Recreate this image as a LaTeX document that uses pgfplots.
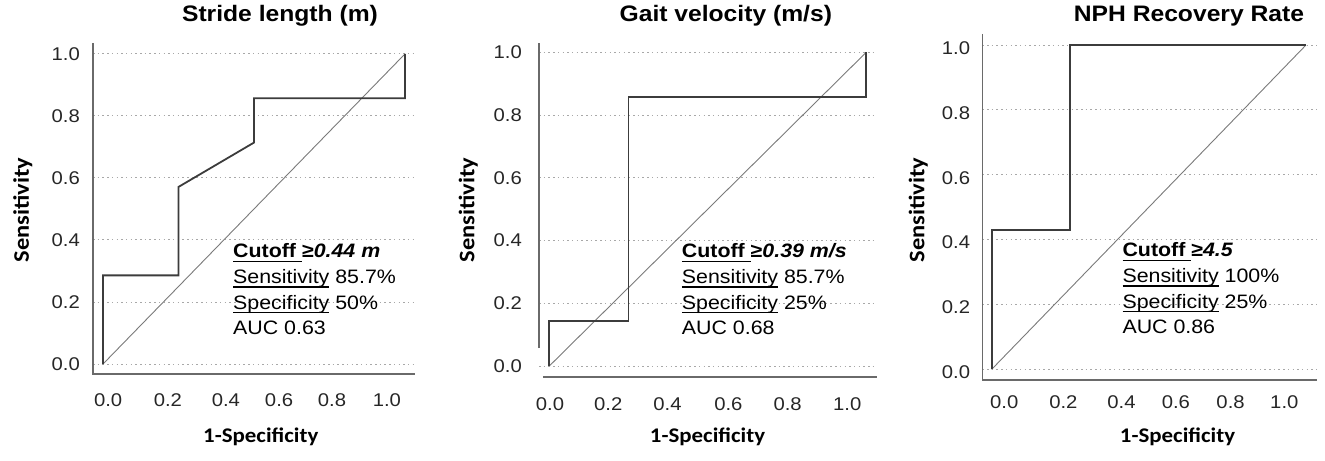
\documentclass[border=0pt]{standalone}
\usepackage{pgfplots}
\pgfplotsset{compat=1.18}
\usepackage{fontspec}
\setmainfont{Liberation Sans}[FakeStretch=1.1]
\newfontfamily\calibri{Carlito}[FakeStretch=1.1]
\definecolor{curve}{HTML}{3C3C3C}
\definecolor{diag}{HTML}{7A7A7A}
\definecolor{axln}{HTML}{6A6A6A}
\definecolor{gridc}{HTML}{A8A8A8}
\newcommand{\ul}[1]{\leavevmode\setbox0\hbox{#1}\rlap{\rule[-4bp]{\wd0}{1.3bp}}\box0\relax}
\newcommand{\ann}[3]{%
  \node[anchor=base west,inner sep=0pt,font=\fontsize{19.5}{24}\selectfont] at (#1bp,#2bp) {#3};}
\begin{document}
\begin{tikzpicture}
\path[use as bounding box] (0,0) rectangle (1325bp,461bp);
\pgfplotsset{
  roc/.style={
    scale only axis, clip=false,
    axis line style={draw=none},
    major tick length=0pt,
    ymajorgrids,
    major grid style={line width=1bp, gridc, dash pattern=on 1.5bp off 3.2bp},
    ytick={0,0.2,0.4,0.6,0.8,1.0},
    yticklabels={0.0,0.2,0.4,0.6,0.8,1.0},
    xticklabels={0.0,0.2,0.4,0.6,0.8,1.0},
    /pgf/number format/assume math mode=true,
    tick label style={font=\fontsize{18.5}{18.5}\selectfont, inner sep=0pt, text=black!85},
  },
  curvest/.style={color=curve, line width=1.8bp, line join=miter},
  diagst/.style={color=diag, line width=0.9bp},
}
% ---------- Panel 1 ----------
\begin{axis}[roc, at={(93bp,87bp)}, anchor=south west,
  width=322bp, height=331bp,
  xmin=-0.033, xmax=1.033, ymin=-0.032, ymax=1.035,
  xtick={0.017,0.215,0.407,0.583,0.758,0.940},
  xticklabel style={anchor=north, yshift=-19bp},
  yticklabel style={anchor=east, xshift=-13bp}]
\draw[axln, line width=1.3bp] (rel axis cs:0,1) -- (rel axis cs:0,0) -- (rel axis cs:1,0);
\addplot[diagst] coordinates {(0,0) (1,1)};
\addplot[curvest] coordinates {(0,0) (0,0.286) (0.25,0.286) (0.25,0.571) (0.5,0.714) (0.5,0.857) (1,0.857) (1,1)};
\end{axis}
% ---------- Panel 2 ----------
\begin{axis}[roc, at={(539bp,84bp)}, anchor=south west,
  width=338bp, height=334bp,
  xmin=-0.0325, xmax=1.034, ymin=-0.035, ymax=1.0296,
  xtick={0.002,0.186,0.373,0.565,0.752,0.940},
  xticklabel style={anchor=north, yshift=-20bp},
  yticklabel style={anchor=east, xshift=-17bp}]
\draw[axln, line width=1.3bp] (axis cs:-0.02,-0.035) -- (axis cs:1.034,-0.035);
\draw[axln, line width=1.3bp] (axis cs:-0.0325,0.057) -- (axis cs:-0.0325,1.0296);
\addplot[diagst] coordinates {(0,0) (1,1)};
\addplot[curvest] coordinates {(0,0) (0,0.143) (0.25,0.143) (0.25,0.857) (1,0.857) (1,1)};
\end{axis}
% ---------- Panel 3 ----------
\begin{axis}[roc, at={(982.3bp,81bp)}, anchor=south west,
  width=334.7bp, height=346bp,
  xmin=-0.030, xmax=1.035, ymin=-0.033, ymax=1.034,
  xtick={0.040,0.228,0.413,0.586,0.760,0.931},
  xticklabel style={anchor=north, yshift=-15bp},
  yticklabel style={anchor=east, xshift=-12bp, yshift=-3bp}]
\draw[axln, line width=1.3bp] (rel axis cs:0,1) -- (rel axis cs:0,0) -- (rel axis cs:1,0);
\addplot[diagst] coordinates {(0,0) (1,1)};
\addplot[curvest] coordinates {(0,0) (0,0.429) (0.25,0.429) (0.25,1) (1,1)};
\end{axis}
% ---------- Titles ----------
\node[anchor=base, inner sep=0pt, font=\fontsize{22.5}{22.5}\selectfont\bfseries] at (280bp,439.3bp) {Stride length (m)};
\node[anchor=base, inner sep=0pt, font=\fontsize{22.5}{22.5}\selectfont\bfseries] at (725.8bp,439.3bp) {Gait velocity (m/s)};
\node[anchor=base, inner sep=0pt, font=\fontsize{22.5}{22.5}\selectfont\bfseries] at (1189bp,439.3bp) {NPH Recovery Rate};
% ---------- Axis labels ----------
\foreach \cx in {22.7,468.3,918.3}{
  \node[rotate=90, inner sep=0pt, font=\fontsize{22.3}{22.3}\selectfont\calibri\bfseries] at (\cx bp,251bp) {Sensitivity};
}
\node[anchor=base, inner sep=0pt, font=\fontsize{20.9}{20.9}\selectfont\calibri\bfseries] at (260.8bp,19bp) {1-Specificity};
\node[anchor=base, inner sep=0pt, font=\fontsize{20.9}{20.9}\selectfont\calibri\bfseries] at (707.5bp,19bp) {1-Specificity};
\node[anchor=base, inner sep=0pt, font=\fontsize{20.9}{20.9}\selectfont\calibri\bfseries] at (1177.5bp,19bp) {1-Specificity};
% ---------- Annotations ----------
\ann{233}{203}{\textbf{\ul{Cutoff }≥\textit{0.44 m}}}
\ann{233}{177.4}{\ul{Sensitivity} 85.7\%}
\ann{233}{151.8}{\ul{Specificity} 50\%}
\ann{233}{126.2}{AUC 0.63}
\ann{681.7}{203}{\textbf{\ul{Cutoff }≥\textit{0.39 m/s}}}
\ann{681.7}{177.4}{\ul{Sensitivity} 85.7\%}
\ann{681.7}{151.8}{\ul{Specificity} 25\%}
\ann{681.7}{126.2}{AUC 0.68}
\ann{1122.3}{204}{\textbf{\ul{Cutoff }≥\textit{4.5}}}
\ann{1122.3}{178.4}{\ul{Sensitivity} 100\%}
\ann{1122.3}{152.8}{\ul{Specificity} 25\%}
\ann{1122.3}{127.2}{AUC 0.86}
\end{tikzpicture}
\end{document}
